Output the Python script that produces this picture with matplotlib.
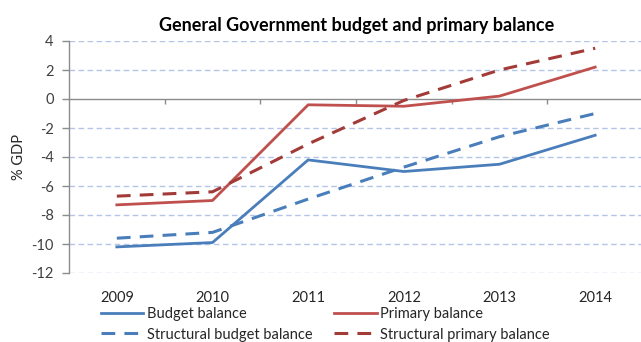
import matplotlib
matplotlib.use("Agg")
import matplotlib.pyplot as plt
import numpy as np

plt.rcParams['font.family'] = ['Lato', 'DejaVu Sans']

years = ['2009', '2010', '2011', '2012', '2013', '2014']
budget_balance = [-10.2, -9.9, -4.2, -5.0, -4.5, -2.5]
primary_balance = [-7.3, -7.0, -0.4, -0.5, 0.2, 2.2]
structural_budget = [-9.6, -9.2, -6.9, -4.7, -2.6, -1.0]
structural_primary = [-6.7, -6.4, -3.1, -0.1, 2.0, 3.5]
yticks = [4, 2, 0, -2, -4, -6, -8, -10, -12]

blue = '#4a7ebb'
red = '#c0504d'
dark_red = '#a23b38'
grid_blue = '#b3c6e7'
axis_gray = '#8c8c8c'

fig = plt.figure(figsize=(6.41, 3.42), dpi=100)
ax = fig.add_axes([69 / 641, 1 - 273 / 342, (643 - 69) / 641, 232 / 342])

x = np.arange(len(years))

# horizontal gridlines, the zero line is a solid axis line instead
for v in yticks:
    if v != 0:
        ax.axhline(v, color=grid_blue, lw=1.0, dashes=(4, 2.5), zorder=0)
ax.axhline(0, color=axis_gray, lw=1.0, zorder=1)
bounds = np.arange(len(years) + 1) - 0.5
ax.vlines(bounds[1:], -0.35, 0, color=axis_gray, lw=1.0, zorder=1)

ax.plot(x, budget_balance, color=blue, lw=2.0, label='Budget balance', zorder=3)
ax.plot(x, structural_budget, color=blue, lw=2.2, dashes=(4.5, 3),
        label='Structural budget balance', zorder=3)
ax.plot(x, primary_balance, color=red, lw=2.0, label='Primary balance', zorder=3)
ax.plot(x, structural_primary, color=dark_red, lw=2.2, dashes=(4.5, 3),
        label='Structural primary balance', zorder=3)

ax.set_xlim(-0.5, len(years) - 0.5)
ax.set_ylim(-12, 4)
ax.set_yticks(yticks)
ax.set_yticklabels([str(v) for v in yticks], fontsize=10.5, color='#404040')
ax.set_xticks(x)
ax.set_xticklabels(years, fontsize=10.5, color='#262626')
ax.tick_params(axis='x', length=0, pad=13)
ax.tick_params(axis='y', length=5, width=1.0, color=axis_gray, pad=6)

for side in ['top', 'right', 'bottom']:
    ax.spines[side].set_visible(False)
ax.spines['left'].set_color(axis_gray)
ax.spines['left'].set_linewidth(1.0)

ax.set_ylabel('% GDP', fontsize=10.5, color='#262626', labelpad=4)
fig.text(357 / 641, 1 - 25 / 342, 'General Government budget and primary balance',
         ha='center', va='center', fontsize=13, fontweight='bold', color='black')

fig.legend(loc='upper left', bbox_to_anchor=(101 / 641, 1 - 307 / 342), ncol=2,
           frameon=False, fontsize=10.5, handlelength=2.9, handletextpad=0.25,
           columnspacing=1.5, labelspacing=0.45, borderaxespad=0, borderpad=0,
           labelcolor='#262626')

fig.savefig('out.png', dpi=100)
